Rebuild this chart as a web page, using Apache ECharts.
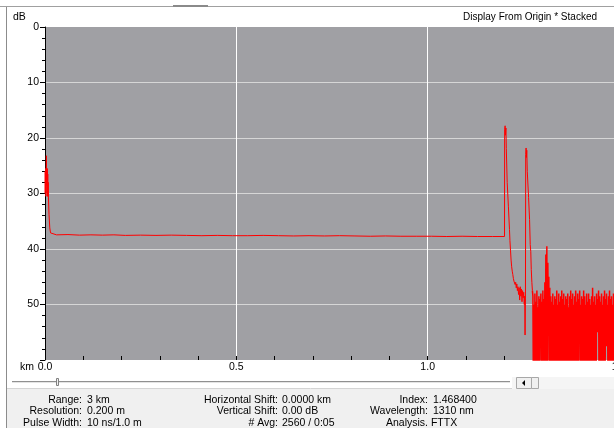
<!DOCTYPE html>
<html><head><meta charset="utf-8">
<script src="https://cdn.jsdelivr.net/npm/echarts@6/dist/echarts.min.js"></script>
<style>html,body{margin:0;padding:0;background:#fff;overflow:hidden}#c{width:614px;height:428px}</style>
</head><body><div id="c"></div>
<script>
// ---- data (distance in km, loss in dB) ----
const traceDist = [0, 0.0006, 0.0012, 0.0018, 0.0024, 0.003, 0.0036, 0.0042, 0.0048, 0.0054, 0.006, 0.0066, 0.0072, 0.0078, 0.0084, 0.009, 0.0105, 0.0125, 0.0145, 0.017,
  0.03, 0.06, 0.09, 0.12, 0.15, 0.18, 0.21, 0.25, 0.29, 0.33, 0.37, 0.41, 0.45, 0.49, 0.53, 0.57, 0.61, 0.65, 0.69, 0.73, 0.77, 0.81, 0.85, 0.89, 0.93, 0.97, 1.01, 1.05, 1.09, 1.13, 1.17, 1.2008,
  1.2012, 1.2024, 1.2032, 1.2045, 1.2055, 1.207, 1.2078, 1.2095, 1.211, 1.2125, 1.2138, 1.215, 1.2165, 1.218, 1.2195, 1.221, 1.2225, 1.224, 1.2255, 1.227, 1.2285, 1.23, 1.2315, 1.233, 1.2345, 1.236, 1.2375, 1.239, 1.2405, 1.242, 1.2435, 1.245, 1.2465, 1.248, 1.2495, 1.251, 1.2525, 1.2535, 1.2545, 1.2555,
  1.2562, 1.2572, 1.258, 1.259, 1.2603, 1.262, 1.2637, 1.265, 1.2663, 1.268, 1.2695, 1.2707, 1.2723, 1.2737];
const traceLoss = [30, 26, 29.5, 25.5, 30.5, 27, 23.2, 28.5, 26, 30, 25.5, 30.5, 26.5, 30.5, 28, 30.8, 33.8, 36.2, 37.1, 37.4,
  37.45, 37.4, 37.5, 37.45, 37.5, 37.45, 37.55, 37.5, 37.55, 37.5, 37.55, 37.6, 37.55, 37.6, 37.6, 37.55, 37.6, 37.65, 37.6, 37.65, 37.6, 37.65, 37.7, 37.65, 37.7, 37.7, 37.7, 37.75, 37.7, 37.75, 37.75, 37.75,
  18.5, 17.8, 19.5, 18.2, 21.9, 22, 28, 28.2, 32.4, 32.6, 36.5, 38.5, 40.2, 42, 43.2, 44, 44.6, 45.3, 45.8, 45.5, 46.4, 46, 47, 46.3, 47.5, 46.8, 48.2, 47, 49.2, 46.8, 48.5, 47.2, 49.5, 47.5, 48.8, 47.8, 50, 48.5, 55.5, 49,
  23, 21.8, 23.5, 22.2, 26, 26.3, 30.7, 31, 34.7, 39.2, 40.5, 43.7, 46, 47.5];
// end-of-fibre noise, sampled every noiseStep km from noiseStart
const noiseStart = 1.2750;
const noiseStep = 0.0013;
const noiseLoss = [
  48.5, 66, 50, 66, 48, 64, 49.5, 66, 47.5, 66, 50.5, 65, 48.5, 66, 49, 52, 48, 66, 49.5, 66,
  47.5, 65, 49, 66, 46, 66, 41, 65, 39.5, 66, 42.5, 52, 45, 66, 47, 66, 48.5, 65, 49.5, 66,
  48, 66, 50, 64, 48.5, 66, 49, 66, 47.5, 65, 50, 66, 48, 66, 49.5, 66, 48.5, 65, 47.5, 66,
  49, 66, 48, 64, 50, 66, 48.5, 66, 49, 65, 48, 66, 50.5, 66, 48.5, 66, 47.5, 64, 49, 66,
  48, 66, 50, 65, 48.5, 66, 47.5, 66, 49.5, 66, 48, 64, 49, 53, 47.5, 66, 50, 66, 48.5, 65,
  49, 66, 47.5, 66, 48.5, 64, 50, 66, 48, 66, 49.5, 65, 48, 66, 49, 66, 50, 64, 48.5, 66,
  47, 66, 49.5, 65, 48.5, 66, 50, 66, 48, 55, 49, 55, 47.5, 66, 48.5, 66, 49.5, 65, 48, 66,
  50, 66, 48.5, 64, 47.5, 66, 49, 57.5, 48, 57.5, 50, 66, 48.5, 66, 47.5, 65, 49, 66, 48.5, 66,
  50, 64, 48, 66, 49.5, 65];
const xLabelValues = [0, 0.5, 1.0, 1.5];
const yLabelValues = [0, 10, 20, 30, 40, 50];
const headerLeft = 'dB';
const headerRight = 'Display From Origin * Stacked';
const xUnit = 'km';
const infoCol1 = [['Range:', '3 km'], ['Resolution:', '0.200 m'], ['Pulse Width:', '10 ns/1.0 m']];
const infoCol2 = [['Horizontal Shift:', '0.0000 km'], ['Vertical Shift:', '0.00 dB'], ['# Avg:', '2560 / 0:05']];
const infoCol3 = [['Index:', '1.468400'], ['Wavelength:', '1310 nm']];
const analysisText = 'Analysis. FTTX';

// ---- build ----
const traceData = traceDist.map((d, i) => [d, traceLoss[i]]);
const noiseData = [traceData[traceData.length - 1]];
noiseLoss.forEach((v, i) => noiseData.push([noiseStart + i * noiseStep, v]));

const FONT = 'Liberation Sans';
const FS = 10.5;
const txt = (x, y, text, align, size) => ({
  type: 'text', x: x, y: y, silent: true,
  style: { text: text, fill: '#000', font: (size || FS) + 'px "' + FONT + '"', textAlign: align || 'left', textVerticalAlign: 'middle' }
});
const graphics = [];
// frame
graphics.push({ type: 'rect', shape: { x: 7, y: 389, width: 607, height: 39 }, style: { fill: '#f0f0f0' }, silent: true });
graphics.push({ type: 'line', shape: { x1: 7, y1: 388.5, x2: 614, y2: 388.5 }, style: { stroke: '#d4d4d4', lineWidth: 1 }, silent: true });
graphics.push({ type: 'rect', shape: { x: 512, y: 377, width: 102, height: 12 }, style: { fill: '#f5f5f5' }, silent: true });
graphics.push({ type: 'line', shape: { x1: 0, y1: 6.5, x2: 614, y2: 6.5 }, style: { stroke: '#a0a0a0', lineWidth: 1 }, silent: true });
graphics.push({ type: 'rect', shape: { x: 173, y: 5, width: 35, height: 2 }, style: { fill: '#8a8a8a' }, silent: true });
graphics.push({ type: 'line', shape: { x1: 6.5, y1: 7, x2: 6.5, y2: 428 }, style: { stroke: '#8c8c8c', lineWidth: 1 }, silent: true });
// slider
graphics.push({ type: 'line', shape: { x1: 12, y1: 381.5, x2: 510, y2: 381.5 }, style: { stroke: '#909090', lineWidth: 1 }, silent: true });
graphics.push({ type: 'line', shape: { x1: 12, y1: 382.5, x2: 510, y2: 382.5 }, style: { stroke: '#e4e4e4', lineWidth: 1 }, silent: true });
graphics.push({ type: 'rect', shape: { x: 56.5, y: 378.5, width: 2, height: 7 }, style: { fill: '#f0f0f0', stroke: '#808080', lineWidth: 1 }, silent: true });
graphics.push({ type: 'rect', shape: { x: 516.5, y: 377.5, width: 15, height: 11 }, style: { fill: '#f0f0f0', stroke: '#a8a8a8', lineWidth: 1 }, silent: true });
graphics.push({ type: 'rect', shape: { x: 531.5, y: 377.5, width: 7, height: 11 }, style: { fill: '#f0f0f0', stroke: '#a8a8a8', lineWidth: 1 }, silent: true });
graphics.push({ type: 'polygon', shape: { points: [[522, 383], [525, 380], [525, 386]] }, style: { fill: '#000' }, silent: true });
// texts
graphics.push(txt(13, 17.5, headerLeft));
graphics.push(txt(597, 17.5, headerRight, 'right', 10));
graphics.push(txt(20, 367, xUnit));
const rows = [400, 411.5, 423];
infoCol1.forEach((r, i) => { graphics.push(txt(82, rows[i], r[0], 'right')); graphics.push(txt(87, rows[i], r[1])); });
infoCol2.forEach((r, i) => { graphics.push(txt(278, rows[i], r[0], 'right')); graphics.push(txt(282, rows[i], r[1])); });
infoCol3.forEach((r, i) => { graphics.push(txt(428, rows[i], r[0], 'right')); graphics.push(txt(433, rows[i], r[1])); });
graphics.push(txt(386, rows[2], analysisText));

const chart = echarts.init(document.getElementById('c'), null, { renderer: 'canvas' });
chart.setOption({
  animation: false,
  backgroundColor: '#ffffff',
  textStyle: { fontFamily: FONT },
  grid: { left: 45, top: 27, right: -5, bottom: 68, outerBoundsMode: 'none', containLabel: false,
    show: true, backgroundColor: '#a0a0a4', borderWidth: 0 },
  xAxis: [{
    type: 'value', min: 0, max: 1.5, interval: 0.1, position: 'bottom',
    axisLine: { show: false, onZero: false },
    axisTick: { show: true, inside: true, length: 4, lineStyle: { color: '#000' } },
    axisLabel: { margin: 2, color: '#000', fontSize: FS, fontFamily: FONT,
      formatter: v => xLabelValues.some(t => Math.abs(t - v) < 1e-9) ? v.toFixed(1) : '' },
    splitLine: { show: false }
  }, {
    type: 'value', min: 0, max: 1.5, interval: 0.5, position: 'top',
    axisLine: { show: false, onZero: false }, axisTick: { show: false }, axisLabel: { show: false },
    splitLine: { show: true, showMinLine: false, showMaxLine: false, lineStyle: { color: '#ffffff', width: 1 } }
  }],
  yAxis: {
    type: 'value', inverse: true, min: 0, max: 60, interval: 10,
    axisLine: { show: true, onZero: false, lineStyle: { color: '#000' } },
    axisTick: { show: true, length: 5, lineStyle: { color: '#000' } },
    minorTick: { show: true, splitNumber: 5, length: 3, lineStyle: { color: '#000' } },
    axisLabel: { margin: 6, color: '#000', fontSize: FS, fontFamily: FONT,
      formatter: v => yLabelValues.includes(v) ? String(v) : '' },
    splitLine: { show: true, showMinLine: false, showMaxLine: false, lineStyle: { color: '#d6d6d6', width: 1 } }
  },
  series: [{
    type: 'line', xAxisIndex: 0, data: traceData, showSymbol: false, symbol: 'none',
    sampling: null, clip: true, z: 5,
    lineStyle: { color: '#ff0000', width: 1 }
  }, {
    type: 'line', xAxisIndex: 0, data: noiseData, showSymbol: false, symbol: 'none',
    sampling: null, clip: true, z: 5,
    lineStyle: { color: '#ff0000', width: 1.5 }
  }],
  graphic: graphics
});
</script></body></html>
